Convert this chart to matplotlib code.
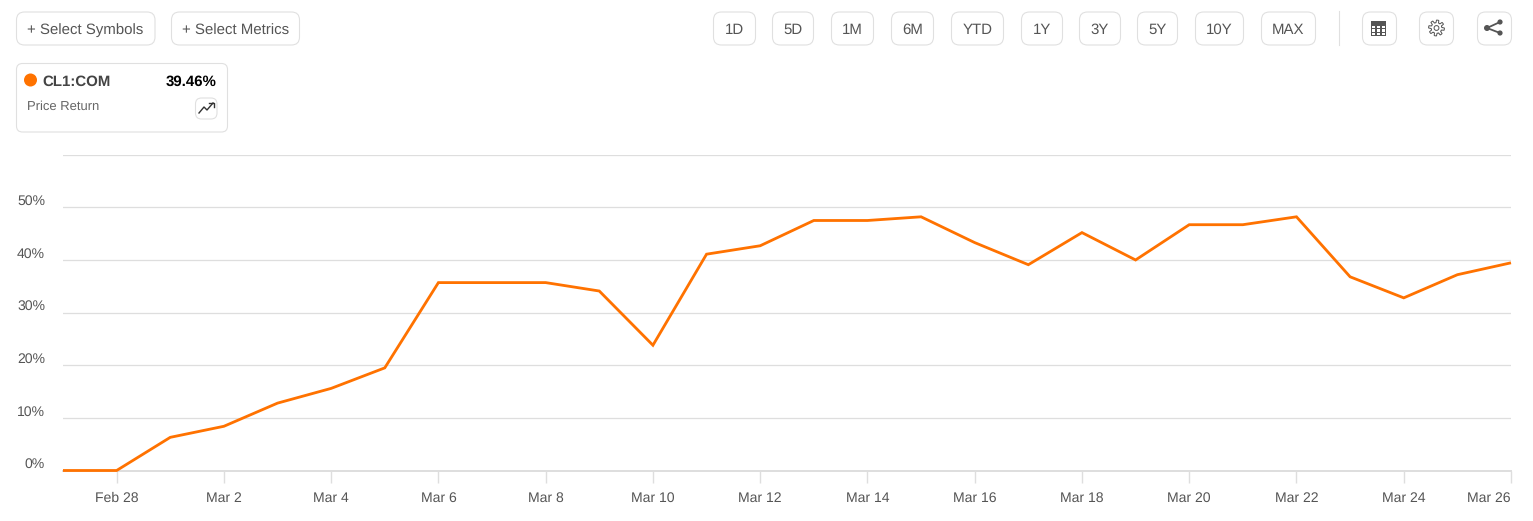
import numpy as np
import matplotlib
matplotlib.use('Agg')
import matplotlib.pyplot as plt
from matplotlib.patches import FancyBboxPatch, Circle, Rectangle

W, H = 1533, 521
plt.rcParams['font.family'] = ['Liberation Sans', 'DejaVu Sans']
plt.rcParams['text.hinting'] = 'none'
plt.rcParams['text.hinting_factor'] = 1

# one value per day, Feb 27 .. Mar 26
days = list(range(28))
price_return = [0, 0, 6.3, 8.4, 12.8, 15.6, 19.5, 35.7, 35.7, 35.7, 34.1, 23.8, 41.1, 42.7,
                47.5, 47.5, 48.2, 43.3, 39.1, 45.2, 40.0, 46.7, 46.7, 48.2, 36.8, 32.8, 37.2, 39.46]
tick_days = [1, 3, 5, 7, 9, 11, 13, 15, 17, 19, 21, 23, 25, 27]
tick_labels = ['Feb 28', 'Mar 2', 'Mar 4', 'Mar 6', 'Mar 8', 'Mar 10', 'Mar 12', 'Mar 14',
               'Mar 16', 'Mar 18', 'Mar 20', 'Mar 22', 'Mar 24', 'Mar 26']
y_ticks = [0, 10, 20, 30, 40, 50, 60]
y_labels = ['0%', '10%', '20%', '30%', '40%', '50%']

range_buttons = ['1D', '5D', '1M', '6M', 'YTD', '1Y', '3Y', '5Y', '10Y', 'MAX']
range_spans = [(713, 755), (772, 813), (831, 873), (891, 933), (951, 1003),
               (1021, 1062), (1079, 1120), (1137, 1177), (1195, 1243), (1261, 1315)]

ORANGE = '#ff7200'
GRID = '#dedede'
TEXT = '#555555'
BORDER = '#e0e0e0'
PX = 72 / 100  # pixels to points at dpi 100

fig = plt.figure(figsize=(W / 100, H / 100), dpi=100)

# chart area
ax = fig.add_axes([63 / W, 1 - 470.5 / H, (1511 - 63) / W, (470.5 - 154.7) / H])
ax.plot(days, price_return, color=ORANGE, lw=2.8 * PX, solid_joinstyle='miter', solid_capstyle='butt',
        clip_on=False, zorder=3)
ax.set_xlim(0, 27)
ax.set_ylim(0, 60)
ax.set_yticks(y_ticks)
ax.set_yticklabels([])
ax.grid(axis='y', color=GRID, lw=1.3 * PX)
ax.set_axisbelow(True)
for s in ['top', 'left', 'right']:
    ax.spines[s].set_visible(False)
ax.spines['bottom'].set_color(GRID)
ax.spines['bottom'].set_linewidth(2 * PX)
ax.tick_params(axis='y', length=0)
ax.tick_params(axis='x', length=12 * PX, width=1.4 * PX, color=GRID, pad=6.5, labelsize=13.6 * PX, labelcolor=TEXT)
ax.set_xticks(tick_days)
ax.set_xticklabels(tick_labels)
ax.get_xticklabels()[-1].set_ha('right')

for val, lab in zip(y_ticks, y_labels):
    ax.annotate(lab, xy=(0, val), xycoords=('axes fraction', 'data'), xytext=(-18 * PX, 6 * PX),
                textcoords='offset points', ha='right', va='center', fontsize=14 * PX, color=TEXT)

# toolbar and card drawn in pixel coordinates
ui = fig.add_axes([0, 0, 1, 1], zorder=5)
ui.set_xlim(0, W)
ui.set_ylim(H, 0)
ui.axis('off')
ui.patch.set_alpha(0)


def box(x0, x1, y0, y1, r=8):
    ui.add_patch(FancyBboxPatch((x0 + r, y0 + r), x1 - x0 - 2 * r, y1 - y0 - 2 * r,
                                boxstyle=f'round,pad={r},rounding_size={r}',
                                fc='white', ec=BORDER, lw=1.1 * PX))


box(16.5, 155, 12, 45)
ui.text(85.5, 34, '+ Select Symbols', ha='center', va='baseline', fontsize=14.8 * PX, color=TEXT)
box(171.5, 299.5, 12, 45)
ui.text(235.5, 35, '+ Select Metrics', ha='center', va='baseline', fontsize=14.8 * PX, color=TEXT)

for lab, (x0, x1) in zip(range_buttons, range_spans):
    box(x0 + 0.5, x1 + 0.5, 12, 45)
    ui.text((x0 + x1) / 2 + 0.5, 33.5, lab, ha='center', va='baseline', fontsize=15 * PX, color=TEXT)

ui.plot([1338.5, 1338.5], [11, 45], color=BORDER, lw=1.1 * PX)

# table icon
box(1362.5, 1396.5, 12, 45)
ui.add_patch(Rectangle((1371, 21), 15, 15, fc='#555555', ec='none'))
for cx in (1372.2, 1377.2, 1382.2):
    for cy in (25.5, 29.2, 32.6):
        ui.add_patch(Rectangle((cx, cy), 3.2, 2.4, fc='white', ec='none'))

# settings icon, outline gear
box(1419.5, 1453.5, 12, 45)
angles = np.linspace(0, 2 * np.pi, 64, endpoint=False)
gear_r = 6.6 + 1.3 * np.sign(np.sin(8 * angles + 0.4))
ui.fill(1436.5 + gear_r * np.cos(angles), 28 + gear_r * np.sin(angles), fc='none', ec=TEXT, lw=1 * PX)
ui.add_patch(Circle((1436.5, 28), 2.4, fc='none', ec=TEXT, lw=1 * PX))

# share icon
box(1477.5, 1511.5, 12, 45)
ui.plot([1500, 1487, 1500], [22, 28, 33], color='#555555', lw=1.8 * PX)
for cx, cy, r in [(1500, 22, 2.6), (1487, 28, 3), (1500, 33, 2.6)]:
    ui.add_patch(Circle((cx, cy), r, fc='#555555', ec='none'))

# symbol card
box(16.5, 227.5, 63.5, 132, r=6)
ui.add_patch(Circle((30.5, 80), 6.5, fc=ORANGE, ec='none'))
ui.text(42, 86, 'CL1:COM', ha='left', va='baseline', fontsize=14.5 * PX, fontweight='bold', color='#444444')
ui.text(217, 86, '39.46%', ha='right', va='baseline', fontsize=14.8 * PX, fontweight='bold', color='black')
ui.text(27, 110, 'Price Return', ha='left', va='baseline', fontsize=12.6 * PX, color='#666666')
box(195.5, 217, 98, 119, r=6)
ui.plot([199, 204, 207, 213], [113, 107, 110, 103], color='#333333', lw=1.4 * PX)
ui.plot([209, 213.5, 213.5], [103, 103, 107], color='#333333', lw=1.4 * PX)

fig.savefig('out.png', dpi=100)
